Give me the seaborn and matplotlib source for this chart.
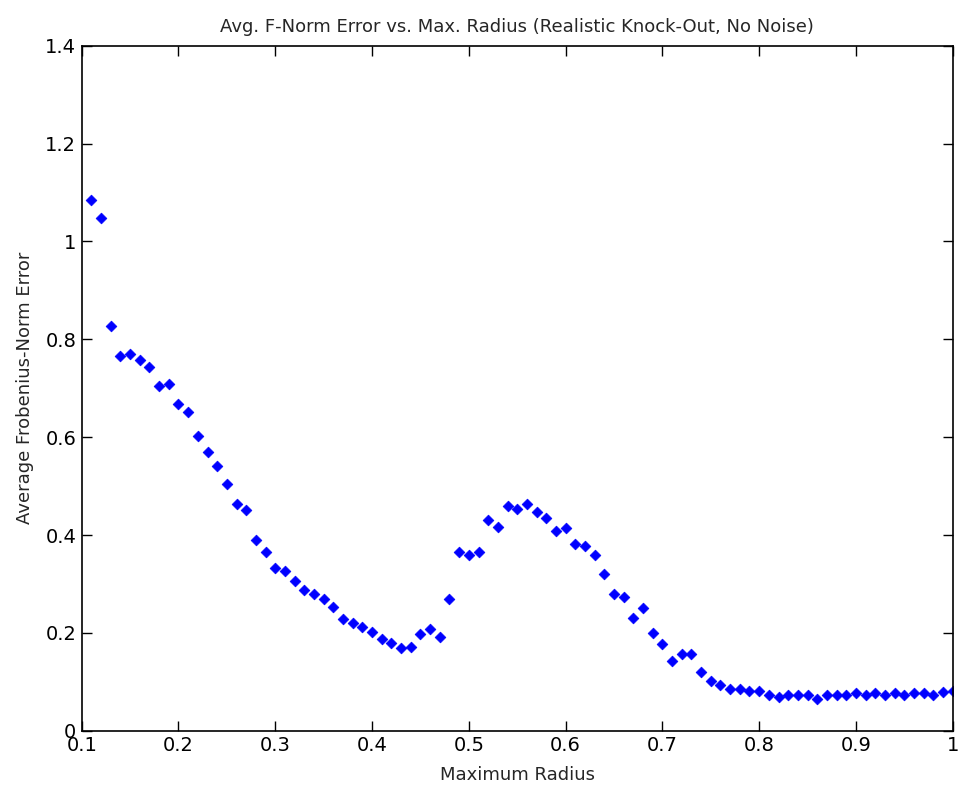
import matplotlib
matplotlib.use("Agg")
import matplotlib.pyplot as plt
import seaborn as sns
import pandas as pd

# max radius values (one run per 0.01 step)
radius = [0.11, 0.12, 0.13, 0.14, 0.15, 0.16, 0.17, 0.18, 0.19, 0.20,
          0.21, 0.22, 0.23, 0.24, 0.25, 0.26, 0.27, 0.28, 0.29, 0.30,
          0.31, 0.32, 0.33, 0.34, 0.35, 0.36, 0.37, 0.38, 0.39, 0.40,
          0.41, 0.42, 0.43, 0.44, 0.45, 0.46, 0.47, 0.48, 0.49, 0.50,
          0.51, 0.52, 0.53, 0.54, 0.55, 0.56, 0.57, 0.58, 0.59, 0.60,
          0.61, 0.62, 0.63, 0.64, 0.65, 0.66, 0.67, 0.68, 0.69, 0.70,
          0.71, 0.72, 0.73, 0.74, 0.75, 0.76, 0.77, 0.78, 0.79, 0.80,
          0.81, 0.82, 0.83, 0.84, 0.85, 0.86, 0.87, 0.88, 0.89, 0.90,
          0.91, 0.92, 0.93, 0.94, 0.95, 0.96, 0.97, 0.98, 0.99, 1.00]

# average frobenius-norm error
fnorm_err = [1.084, 1.047, 0.827, 0.766, 0.770, 0.757, 0.744, 0.704, 0.709, 0.667,
             0.651, 0.602, 0.569, 0.540, 0.504, 0.463, 0.451, 0.390, 0.365, 0.332,
             0.327, 0.307, 0.287, 0.279, 0.270, 0.253, 0.229, 0.221, 0.213, 0.201,
             0.188, 0.180, 0.170, 0.172, 0.197, 0.208, 0.192, 0.270, 0.365, 0.359,
             0.365, 0.431, 0.417, 0.459, 0.454, 0.463, 0.446, 0.434, 0.409, 0.414,
             0.382, 0.377, 0.360, 0.320, 0.279, 0.274, 0.230, 0.251, 0.200, 0.177,
             0.143, 0.156, 0.156, 0.119, 0.102, 0.094, 0.085, 0.085, 0.082, 0.082,
             0.074, 0.068, 0.074, 0.074, 0.074, 0.065, 0.074, 0.074, 0.074, 0.078,
             0.074, 0.078, 0.074, 0.078, 0.074, 0.078, 0.078, 0.074, 0.079, 0.082]

xticks = [0.1, 0.2, 0.3, 0.4, 0.5, 0.6, 0.7, 0.8, 0.9, 1.0]
yticks = [0, 0.2, 0.4, 0.6, 0.8, 1.0, 1.2, 1.4]

df = pd.DataFrame({"radius": radius, "err": fnorm_err})

sns.set_style("ticks")
plt.rcParams["font.family"] = ["Liberation Sans Narrow", "DejaVu Sans"]
plt.rcParams["xtick.direction"] = "in"
plt.rcParams["ytick.direction"] = "in"

fig = plt.figure(figsize=(9.58, 7.96), dpi=100)
ax = fig.add_axes([0.0853, 0.082, 0.9092, 0.8606])

sns.scatterplot(data=df, x="radius", y="err", ax=ax, marker="D", s=30,
                color="#0000ff", edgecolor="#0000ff", linewidth=0.5, legend=False)

ax.set_xlim(0.1, 1.0)
ax.set_ylim(0, 1.4)
ax.set_xticks(xticks)
ax.set_yticks(yticks)
ax.set_xticklabels([f"{t:g}" for t in xticks])
ax.set_yticklabels([f"{t:g}" for t in yticks])
ax.tick_params(axis="both", which="both", top=True, right=True, length=7,
               width=1, labelsize=14, colors="black", pad=4)
for sp in ax.spines.values():
    sp.set_visible(True)
    sp.set_linewidth(1.2)
    sp.set_color("black")

ax.set_title("Avg. F-Norm Error vs. Max. Radius (Realistic Knock-Out, No Noise)",
             fontsize=13, pad=10)
ax.set_xlabel("Maximum Radius", fontsize=13, labelpad=8)
ax.set_ylabel("Average Frobenius-Norm Error", fontsize=13, labelpad=8)

fig.savefig("out.png", dpi=100)
